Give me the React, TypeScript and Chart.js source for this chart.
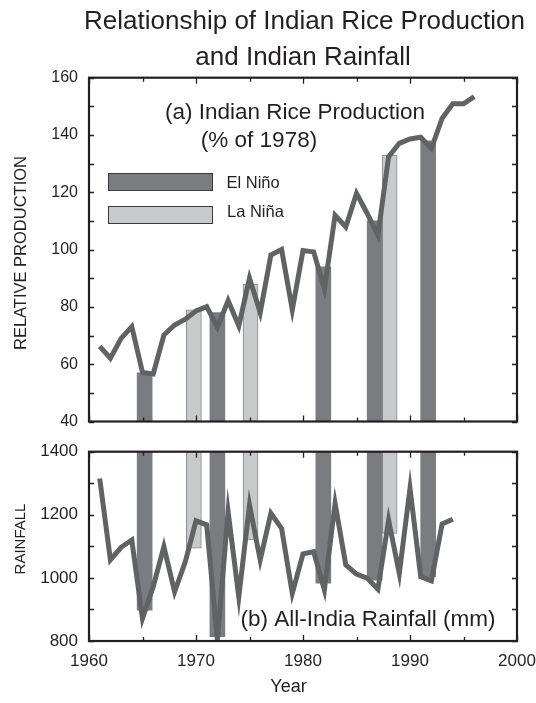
import React, { useEffect, useRef } from 'react';
import { Chart, registerables } from 'chart.js';

Chart.register(...registerables);

// ---------------- data ----------------
const riceYears = [
  1961, 1962, 1963, 1964, 1965, 1966, 1967, 1968, 1969, 1970, 1971, 1972,
  1973, 1974, 1975, 1976, 1977, 1978, 1979, 1980, 1981, 1982, 1983, 1984,
  1985, 1986, 1987, 1988, 1989, 1990, 1991, 1992, 1993, 1994, 1995, 1996,
];
const riceProduction = [
  66.2, 62.1, 69, 73.1, 57.1, 56.6, 70.2, 73.7, 75.7, 78.6, 80.1, 72.9,
  82.2, 73.4, 90, 78, 98.1, 100, 79, 99.7, 99.2, 86.3, 112, 107.9,
  119.6, 112.6, 105, 132.4, 137.1, 138.6, 139.2, 135.3, 145.8, 150.9, 150.9, 153.4,
];
const rainYears = [
  1961, 1962, 1963, 1964, 1965, 1966, 1967, 1968, 1969, 1970, 1971, 1972,
  1973, 1974, 1975, 1976, 1977, 1978, 1979, 1980, 1981, 1982, 1983, 1984,
  1985, 1986, 1987, 1988, 1989, 1990, 1991, 1992, 1993, 1994,
];
const rainfall = [
  1315, 1057, 1097, 1120, 872, 972, 1099, 956, 1051, 1181, 1168, 803,
  1210, 940, 1231, 1057, 1205, 1157, 951, 1076, 1083, 962, 1236, 1041,
  1012, 999, 964, 1183, 1014, 1284, 1004, 991, 1171, 1186,
];

// ENSO event bars (centre positions)
const elNinoPos = [1965.2, 1972.0, 1981.9, 1986.7, 1991.7];
const elNinoRiceTop = [57, 78, 94, 110, 138];
const elNinoRainBottom = [898, 814, 983, 993, 1004];
const laNinaPos = [1969.8, 1975.1, 1988.1];
const laNinaRiceTop = [79, 88, 133];
const laNinaRainBottom = [1094, 1120, 1141];

// axes
const yearRange = [1960, 2000];
const yearStep = 10;
const riceRange = [40, 160];
const riceStep = 20;
const rainRange = [800, 1400];
const rainStep = 200;

const titleLines = ['Relationship of Indian Rice Production', 'and Indian Rainfall'];
const riceLabel = ['(a) Indian Rice Production', '(% of 1978)'];
const rainLabel = '(b) All-India Rainfall (mm)';
const legendLabels = ['El Niño', 'La Niña'];

// ---------------- style ----------------
const FONT = '"Liberation Sans", Arial, Helvetica, sans-serif';
const INK = '#231f20';
const LINE = '#616264';
const DARK = '#7b7c80';
const LIGHT = '#c8c9cb';
const LIGHT_EDGE = '#8a8b8e';

function drawFrameTicks(chart: any, yMinor: number) {
  const { ctx, chartArea: a, scales } = chart;
  const xs = scales.x;
  const ys = scales.y;
  ctx.save();
  ctx.strokeStyle = INK;
  ctx.lineWidth = 1.3;
  ctx.beginPath();
  for (let v = yearRange[0]; v <= yearRange[1]; v += yearStep / 2) {
    const p = Math.round(xs.getPixelForValue(v)) + 0.5;
    const len = (v - yearRange[0]) % yearStep === 0 ? 6 : 4;
    ctx.moveTo(p, a.bottom);
    ctx.lineTo(p, a.bottom - len);
    ctx.moveTo(p, a.top);
    ctx.lineTo(p, a.top + len);
  }
  for (let v = ys.min; v <= ys.max + 1e-6; v += yMinor) {
    const p = Math.round(ys.getPixelForValue(v)) + 0.5;
    const len = 5;
    ctx.moveTo(a.left, p);
    ctx.lineTo(a.left + len, p);
    ctx.moveTo(a.right, p);
    ctx.lineTo(a.right - len, p);
  }
  ctx.stroke();
  ctx.lineWidth = 2.2;
  ctx.strokeRect(a.left, a.top, a.right - a.left, a.bottom - a.top);
  ctx.restore();
}

function text(ctx: any, s: string, x: number, y: number, size: number, align: any = 'center') {
  ctx.font = `${size}px ${FONT}`;
  ctx.fillStyle = INK;
  ctx.textAlign = align;
  ctx.textBaseline = 'alphabetic';
  ctx.fillText(s, x, y);
}

function vtext(ctx: any, s: string, cx: number, cy: number, size: number) {
  ctx.save();
  ctx.translate(cx, cy);
  ctx.rotate(-Math.PI / 2);
  ctx.font = `${size}px ${FONT}`;
  ctx.fillStyle = INK;
  ctx.textAlign = 'center';
  ctx.textBaseline = 'alphabetic';
  ctx.fillText(s, 0, size * 0.36);
  ctx.restore();
}

const topDeco = {
  id: 'topDeco',
  afterDatasetsDraw(chart: any) {
    const ctx = chart.ctx;
    drawFrameTicks(chart, riceStep / 2);
    ctx.save();
    text(ctx, titleLines[0], 304.5, 28.5, 26);
    text(ctx, titleLines[1], 303, 65, 26);
    text(ctx, riceLabel[0], 295, 118.5, 22.5);
    text(ctx, riceLabel[1], 259, 147, 22.5);
    // legend
    ctx.lineWidth = 1;
    ctx.fillStyle = DARK;
    ctx.fillRect(108, 173, 104, 17);
    ctx.strokeStyle = '#3a3a3c';
    ctx.strokeRect(108.5, 173.5, 104, 17);
    ctx.fillStyle = LIGHT;
    ctx.fillRect(108, 206, 104, 17);
    ctx.strokeRect(108.5, 206.5, 104, 17);
    text(ctx, legendLabels[0], 226.5, 188, 16.5, 'left');
    text(ctx, legendLabels[1], 227, 216.7, 16.5, 'left');
    vtext(ctx, 'RELATIVE PRODUCTION', 20, 253, 16.5);
    ctx.restore();
  },
};

const botDeco = {
  id: 'botDeco',
  afterDatasetsDraw(chart: any) {
    const ctx = chart.ctx;
    drawFrameTicks(chart, rainStep / 2);
    ctx.save();
    text(ctx, rainLabel, 368, 186, 22.5);
    text(ctx, 'Year', 288.5, 251.5, 18);
    vtext(ctx, 'RAINFALL', 19.5, 99, 15);
    ctx.restore();
  },
};

function lineDataset(xs: number[], ys: number[]) {
  return {
    type: 'line',
    data: xs.map((x, i) => ({ x, y: ys[i] })),
    borderColor: LINE,
    borderWidth: 5,
    pointRadius: 0,
    tension: 0,
    borderJoinStyle: 'miter',
    borderCapStyle: 'butt',
    order: 0,
  };
}

function barDataset(pos: number[], ranges: number[][], light: boolean) {
  return {
    type: 'bar',
    data: pos.map((x, i) => ({ x, y: ranges[i] })),
    backgroundColor: light ? LIGHT : DARK,
    borderColor: light ? LIGHT_EDGE : DARK,
    borderWidth: light ? 1 : 0,
    borderSkipped: false,
    barThickness: 15,
    grouped: false,
    order: 1,
  };
}

function baseOptions(yRange: number[], yStep: number, yTickSize: number, yWidth: number, xVisible: boolean, xHeight: number, padding: any) {
  return {
    responsive: false,
    animation: false,
    devicePixelRatio: 1,
    layout: { padding },
    plugins: { legend: { display: false }, tooltip: { enabled: false } },
    scales: {
      x: {
        type: 'linear',
        min: yearRange[0],
        max: yearRange[1],
        offset: false,
        display: xVisible,
        grid: { display: false, drawTicks: false },
        border: { display: false },
        ticks: {
          stepSize: yearStep,
          autoSkip: false,
          maxRotation: 0,
          padding: 10,
          color: INK,
          font: { family: FONT, size: 17 },
          callback: (v: any) => String(v),
        },
        afterFit: (s: any) => {
          s.height = xHeight;
          s.paddingLeft = 0;
          s.paddingRight = 0;
        },
      },
      y: {
        type: 'linear',
        min: yRange[0],
        max: yRange[1],
        grid: { display: false, drawTicks: false },
        border: { display: false },
        ticks: {
          stepSize: yStep,
          autoSkip: false,
          padding: 11,
          color: INK,
          font: { family: FONT, size: yTickSize },
          callback: (v: any) => String(v),
        },
        afterFit: (s: any) => {
          s.width = yWidth;
          s.paddingTop = 0;
          s.paddingBottom = 0;
        },
      },
    },
  };
}

export default function App() {
  const topRef = useRef<HTMLCanvasElement>(null);
  const botRef = useRef<HTMLCanvasElement>(null);

  useEffect(() => {
    const top = new Chart(topRef.current as HTMLCanvasElement, {
      type: 'line',
      data: {
        datasets: [
          lineDataset(riceYears, riceProduction),
          barDataset(elNinoPos, elNinoRiceTop.map((t) => [riceRange[0], t]), false),
          barDataset(laNinaPos, laNinaRiceTop.map((t) => [riceRange[0], t]), true),
        ] as any,
      },
      options: baseOptions(riceRange, riceStep, 16, 89, false, 0, { top: 77.7, right: 19, bottom: 18.5, left: 0 }) as any,
      plugins: [topDeco],
    });
    const bot = new Chart(botRef.current as HTMLCanvasElement, {
      type: 'line',
      data: {
        datasets: [
          lineDataset(rainYears, rainfall),
          barDataset(elNinoPos, elNinoRainBottom.map((b) => [b, rainRange[1]]), false),
          barDataset(laNinaPos, laNinaRainBottom.map((b) => [b, rainRange[1]]), true),
        ] as any,
      },
      options: baseOptions(rainRange, rainStep, 17, 89, true, 62, { top: 11.7, right: 19, bottom: 0, left: 0 }) as any,
      plugins: [botDeco],
    });
    return () => {
      top.destroy();
      bot.destroy();
    };
  }, []);

  return (
    <div style={{ position: 'absolute', left: 0, top: 0, width: 536, height: 703, background: '#fff' }}>
      <canvas ref={topRef} width={536} height={440} style={{ position: 'absolute', left: 0, top: 0 }} />
      <canvas ref={botRef} width={536} height={263} style={{ position: 'absolute', left: 0, top: 440 }} />
    </div>
  );
}
